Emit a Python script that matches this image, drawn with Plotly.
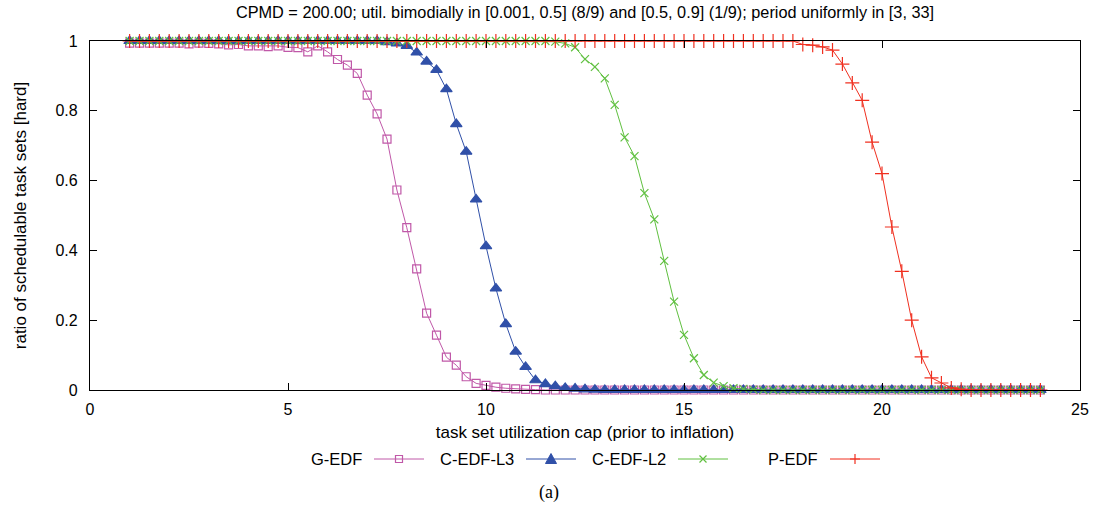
import plotly.graph_objects as go

# x: task set utilization cap (1 .. 24 step 0.25)
x_vals = [1 + 0.25 * i for i in range(93)]

g_edf = [
    0.994, 0.994, 0.994, 0.994,   # 1
    0.994, 0.994, 0.992, 0.994,   # 2
    0.993, 0.992, 0.989, 0.990,   # 3
    0.986, 0.986, 0.984, 0.986,   # 4
    0.982, 0.981, 0.969, 0.986,   # 5
    0.969, 0.947, 0.931, 0.907,   # 6
    0.845, 0.791, 0.719, 0.573,   # 7
    0.465, 0.347, 0.220, 0.157,   # 8
    0.094, 0.071, 0.038, 0.019,   # 9
    0.013, 0.008, 0.005, 0.003,   # 10
    0.002, 0.001, 0, 0,           # 11
    0, 0, 0, 0,                   # 12
    0, 0, 0, 0,                   # 13
    0, 0, 0, 0,                   # 14
    0, 0, 0, 0,                   # 15
    0, 0, 0, 0,                   # 16
    0, 0, 0, 0,                   # 17
    0, 0, 0, 0,                   # 18
    0, 0, 0, 0,                   # 19
    0, 0, 0, 0,                   # 20
    0, 0, 0, 0,                   # 21
    0, 0, 0, 0,                   # 22
    0, 0, 0, 0,                   # 23
    0,                            # 24
]

c_edf_l3 = [
    1, 1, 1, 1,                   # 1
    1, 1, 1, 1,                   # 2
    1, 1, 1, 1,                   # 3
    1, 1, 1, 1,                   # 4
    1, 1, 1, 1,                   # 5
    1, 1, 1, 1,                   # 6
    1, 1, 0.997, 0.993,           # 7
    0.986, 0.967, 0.941, 0.917,   # 8
    0.862, 0.762, 0.683, 0.546,   # 9
    0.412, 0.291, 0.189, 0.110,   # 10
    0.066, 0.028, 0.017, 0.011,   # 11
    0.006, 0.004, 0.002, 0.001,   # 12
    0, 0, 0, 0,                   # 13
    0, 0, 0, 0,                   # 14
    0, 0, 0, 0,                   # 15
    0, 0, 0, 0,                   # 16
    0, 0, 0, 0,                   # 17
    0, 0, 0, 0,                   # 18
    0, 0, 0, 0,                   # 19
    0, 0, 0, 0,                   # 20
    0, 0, 0, 0,                   # 21
    0, 0, 0, 0,                   # 22
    0, 0, 0, 0,                   # 23
    0,                            # 24
]

c_edf_l2 = [
    1, 1, 1, 1,                   # 1
    1, 1, 1, 1,                   # 2
    1, 1, 1, 1,                   # 3
    1, 1, 1, 1,                   # 4
    1, 1, 1, 1,                   # 5
    1, 1, 1, 1,                   # 6
    1, 1, 1, 1,                   # 7
    1, 1, 1, 1,                   # 8
    1, 1, 1, 1,                   # 9
    1, 1, 1, 1,                   # 10
    1, 1, 1, 0.998,               # 11
    0.993, 0.982, 0.948, 0.926,   # 12
    0.893, 0.817, 0.724, 0.670,   # 13
    0.564, 0.489, 0.370, 0.253,   # 14
    0.158, 0.091, 0.043, 0.021,   # 15
    0.011, 0.005, 0.003, 0.001,   # 16
    0, 0, 0, 0,                   # 17
    0, 0, 0, 0,                   # 18
    0, 0, 0, 0,                   # 19
    0, 0, 0, 0,                   # 20
    0, 0, 0, 0,                   # 21
    0, 0, 0, 0,                   # 22
    0, 0, 0, 0,                   # 23
    0,                            # 24
]

p_edf = [
    1, 1, 1, 1,                   # 1
    1, 1, 1, 1,                   # 2
    1, 1, 1, 1,                   # 3
    1, 1, 1, 1,                   # 4
    1, 1, 1, 1,                   # 5
    1, 1, 1, 1,                   # 6
    1, 1, 1, 1,                   # 7
    1, 1, 1, 1,                   # 8
    1, 1, 1, 1,                   # 9
    1, 1, 1, 1,                   # 10
    1, 1, 1, 1,                   # 11
    1, 1, 1, 1,                   # 12
    1, 1, 1, 1,                   # 13
    1, 1, 1, 1,                   # 14
    1, 1, 1, 1,                   # 15
    1, 1, 1, 1,                   # 16
    1, 1, 1, 1,                   # 17
    0.990, 0.988, 0.983, 0.974,   # 18
    0.934, 0.880, 0.830, 0.710,   # 19
    0.620, 0.467, 0.340, 0.200,   # 20
    0.095, 0.035, 0.020, 0.006,   # 21
    0.002, 0, 0, 0,               # 22
    0, 0, 0, 0,                   # 23
    0,                            # 24
]

series_names = ["G-EDF", "C-EDF-L3", "C-EDF-L2", "P-EDF"]
series_values = [g_edf, c_edf_l3, c_edf_l2, p_edf]
series_colors = ["#C058A8", "#3050A8", "#60C040", "#F03020"]

x_ticks = [0, 5, 10, 15, 20, 25]
y_ticks = [0, 0.2, 0.4, 0.6, 0.8, 1]
y_tick_text = ["0", "0.2", "0.4", "0.6", "0.8", "1"]

title_text = ("CPMD = 200.00; util. bimodially in [0.001, 0.5] (8/9) and "
              "[0.5, 0.9] (1/9); period uniformly in [3, 33]")

# ---- styles / layout ----
W, H = 1103, 507
ML, MR, MT, MB = 90, 23, 41, 117
PW, PH = W - ML - MR, H - MT - MB

marker_styles = [
    dict(symbol="square-open", size=8),
    dict(symbol="triangle-up", size=10),
    dict(symbol="x-thin-open", size=8),
    dict(symbol="cross-thin-open", size=10),
]

FONT = "Liberation Sans, Arial, Helvetica, sans-serif"

fig = go.Figure()
for name, ys, color, ms in zip(series_names, series_values, series_colors, marker_styles):
    fig.add_trace(go.Scatter(
        x=x_vals, y=ys, name=name, mode="lines+markers",
        line=dict(color=color, width=1),
        marker=dict(symbol=ms["symbol"], size=ms["size"], color=color,
                    line=dict(color=color, width=1.2)),
        cliponaxis=False, showlegend=False,
    ))

axis_common = dict(
    showline=True, linecolor="black", linewidth=1.3, mirror="allticks",
    ticks="inside", ticklen=7, tickcolor="black", tickwidth=1.2,
    showgrid=False, zeroline=False,
    tickfont=dict(family=FONT, size=16, color="black"),
)

fig.update_layout(
    width=W, height=H,
    margin=dict(l=ML, r=MR, t=MT, b=MB),
    paper_bgcolor="white", plot_bgcolor="white",
    font=dict(family=FONT, size=16, color="black"),
    title=dict(
        text=title_text, xref="paper", x=0.5, xanchor="center",
        yref="container", y=1 - 12.5 / H, yanchor="middle",
        font=dict(family=FONT, size=16.3, color="black"),
    ),
    xaxis=dict(range=[0, 25], tickvals=x_ticks, ticklabelstandoff=5,
               title=dict(text="task set utilization cap (prior to inflation)",
                          font=dict(family=FONT, size=17), standoff=8),
               **axis_common),
    yaxis=dict(range=[0, 1], tickvals=y_ticks, ticktext=y_tick_text,
               ticklabelstandoff=8,
               title=dict(text="ratio of schedulable task sets [hard]",
                          font=dict(family=FONT, size=17), standoff=24),
               **axis_common),
    showlegend=False,
)


# ---- gnuplot-style legend (label text left of line sample) ----
def px(xp):
    return (xp - ML) / PW


def py(yp):
    return (H - MB - yp) / PH


legend_y = 459
text_right = [364, 516, 668, 820]
key_len = 50
key_gap = 10
for i, (name, color) in enumerate(zip(series_names, series_colors)):
    tr = text_right[i]
    x0 = tr + key_gap
    x1 = x0 + key_len
    xc = (x0 + x1) / 2
    fig.add_annotation(text=name, xref="paper", yref="paper", x=px(tr), y=py(legend_y),
                       xanchor="right", yanchor="middle", showarrow=False,
                       font=dict(family=FONT, size=16.5, color="black"))
    fig.add_shape(type="line", xref="paper", yref="paper",
                  x0=px(x0), x1=px(x1), y0=py(legend_y), y1=py(legend_y),
                  line=dict(color=color, width=1))
    s = 3.5
    if i == 0:
        fig.add_shape(type="rect", xref="paper", yref="paper",
                      x0=px(xc - s), x1=px(xc + s), y0=py(legend_y - s), y1=py(legend_y + s),
                      line=dict(color=color, width=1.2), fillcolor="rgba(0,0,0,0)")
    elif i == 1:
        path = "M {} {} L {} {} L {} {} Z".format(
            px(xc - 5.5), py(legend_y + 4.5), px(xc + 5.5), py(legend_y + 4.5),
            px(xc), py(legend_y - 5.5))
        fig.add_shape(type="path", xref="paper", yref="paper", path=path,
                      line=dict(color=color, width=1), fillcolor=color)
    elif i == 2:
        path = "M {} {} L {} {} M {} {} L {} {}".format(
            px(xc - s), py(legend_y - s), px(xc + s), py(legend_y + s),
            px(xc - s), py(legend_y + s), px(xc + s), py(legend_y - s))
        fig.add_shape(type="path", xref="paper", yref="paper", path=path,
                      line=dict(color=color, width=1.2))
    else:
        path = "M {} {} L {} {} M {} {} L {} {}".format(
            px(xc - 5), py(legend_y), px(xc + 5), py(legend_y),
            px(xc), py(legend_y - 5), px(xc), py(legend_y + 5))
        fig.add_shape(type="path", xref="paper", yref="paper", path=path,
                      line=dict(color=color, width=1.2))

fig.add_annotation(text="(a)", xref="paper", yref="paper", x=px(549), y=py(492),
                   xanchor="center", yanchor="middle", showarrow=False,
                   font=dict(family="Liberation Serif, Times New Roman, serif", size=18))

fig.write_html("out.html", config={"displayModeBar": False},
               post_script="document.body.style.margin='0';")
